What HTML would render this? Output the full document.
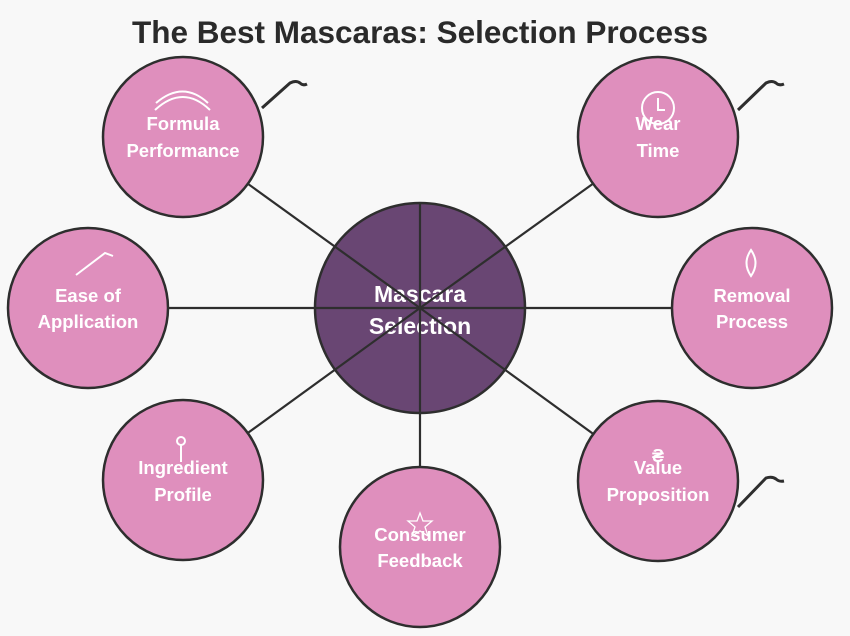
<!DOCTYPE html>
<html><head><meta charset="utf-8"><style>
html,body{margin:0;padding:0;background:#f8f8f8;}
svg{display:block;}
text{font-family:"Liberation Sans",Arial,sans-serif;font-weight:bold;}
</style></head><body>
<svg width="850" height="636" viewBox="0 0 850 636" xmlns="http://www.w3.org/2000/svg">
<rect width="850" height="636" fill="#f8f8f8"/>
<text x="420" y="43" font-size="31.5" fill="#2a2a2a" text-anchor="middle">The Best Mascaras: Selection Process</text>
<circle cx="420" cy="308" r="105" fill="#694673" stroke="#2e2e2e" stroke-width="2.5"/>
<text x="420" y="302" font-size="23" fill="#fff" text-anchor="middle">Mascara</text>
<text x="420" y="334" font-size="23" fill="#fff" text-anchor="middle">Selection</text>
<g stroke="#2e2e2e" stroke-width="2.2">
<line x1="420" y1="308" x2="183" y2="137"/>
<line x1="420" y1="308" x2="658" y2="137"/>
<line x1="420" y1="308" x2="88" y2="308"/>
<line x1="420" y1="308" x2="752" y2="308"/>
<line x1="420" y1="308" x2="183" y2="480"/>
<line x1="420" y1="308" x2="658" y2="481"/>
<line x1="420" y1="203" x2="420" y2="547"/>
</g>
<g fill="#df8fbd" stroke="#2e2e2e" stroke-width="2.5">
<circle cx="183" cy="137" r="80"/>
<circle cx="658" cy="137" r="80"/>
<circle cx="88" cy="308" r="80"/>
<circle cx="752" cy="308" r="80"/>
<circle cx="183" cy="480" r="80"/>
<circle cx="420" cy="547" r="80"/>
<circle cx="658" cy="481" r="80"/>
</g>
<g stroke="#2e2e2e" stroke-width="3" fill="none">
<path d="M262 108 L290 83 Q296 80 300 83 Q303 86 307 84"/>
<path d="M738 110 L766 83 Q772 80 776 83 Q779 86 784 84"/>
<path d="M738 507 L766 478 Q772 476 776 479 Q779 482 784 481"/>
</g>
<g stroke="#fff" stroke-width="2" fill="none">
<path d="M155 110 Q183 84 210 110"/>
<path d="M156 103 Q183 80 208 103"/>
<circle cx="658" cy="108" r="16"/>
<path d="M658 98 V110 H665"/>
<path d="M76 275 L105 253 L113 256"/>
<path d="M751 250 Q742 263 751 276 Q760 263 751 250Z"/>
<circle cx="181" cy="441" r="4"/>
<line x1="181" y1="445" x2="181" y2="462"/>
<path d="M420 513 L423 521 L432 521 L425 527 L428 536 L420 531 L412 536 L415 527 L408 521 L417 521Z" stroke-width="1.3"/>
</g>
<text x="658" y="462" font-size="18" fill="#fff" text-anchor="middle">₴</text>
<g font-size="18.5" fill="#fff" text-anchor="middle">
<text x="183" y="130">Formula</text><text x="183" y="157">Performance</text>
<text x="658" y="130">Wear</text><text x="658" y="157">Time</text>
<text x="88" y="302">Ease of</text><text x="88" y="328">Application</text>
<text x="752" y="302">Removal</text><text x="752" y="328">Process</text>
<text x="183" y="474">Ingredient</text><text x="183" y="501">Profile</text>
<text x="420" y="541">Consumer</text><text x="420" y="567">Feedback</text>
<text x="658" y="474">Value</text><text x="658" y="501">Proposition</text>
</g>
</svg>
</body></html>
